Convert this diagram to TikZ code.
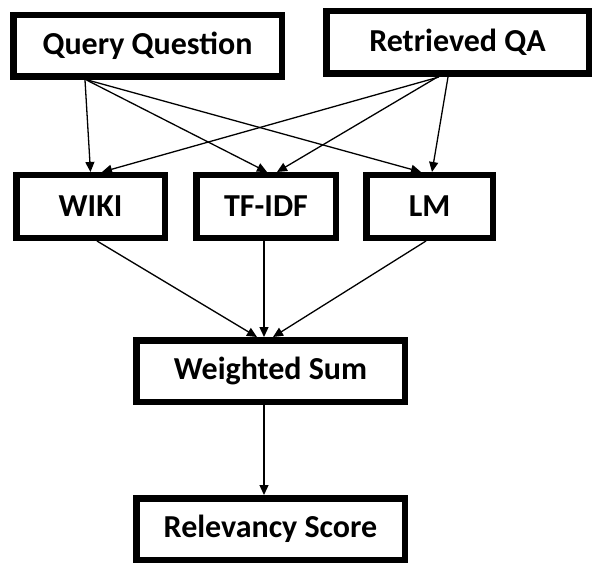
\documentclass[tikz,border=0pt]{standalone}
\usepackage{fontspec}
\setmainfont{Carlito}
\usetikzlibrary{arrows.meta,calc,positioning}

\tikzset{
    box/.style={draw, line width=6.5pt, inner sep=0pt, font=\bfseries\fontsize{32}{34}\selectfont},
    link/.style={line width=1.3pt, -{Triangle[length=10pt,width=9pt]}}
}

\begin{document}
\begin{tikzpicture}[x=1pt,y=-1pt]
                        \useasboundingbox (0,0) rectangle (594,564);

                        % Drawing box query
                        \node [box, minimum width=268.5pt, minimum height=61.5pt] (query) at (147.5,46) {Query Question};%

                        % Drawing box retrieved
                        \node [box, minimum width=262.5pt, minimum height=62.5pt] (retr) at (457.5,42.5) {Retrieved QA};%

                        % Drawing box wiki
                        \node [box, minimum width=148.5pt, minimum height=62.5pt] (wiki) at (90.5,206.5) {WIKI};%

                        % Drawing box tf-idf
                        \node [box, minimum width=139.5pt, minimum height=62.5pt] (tfidf) at (266,206.5) {TF-IDF};%

                        % Drawing box lm
                        \node [box, minimum width=126.5pt, minimum height=62.5pt] (lm) at (429.5,206.5) {LM};%

                        % Drawing box weighted sum
                        \node [box, minimum width=268.5pt, minimum height=61.5pt] (wsum) at (270.5,371) {Weighted Sum};%

                        % Drawing box relevancy score
                        \node [box, minimum width=268.5pt, minimum height=61.5pt] (score) at (270.5,529) {Relevancy Score};%

                        % Arrows from query question
                        \draw [link] ([xshift=-62.5pt]query.south) -- (wiki.north);%
                        \draw [link] ([xshift=-61pt]query.south) -- ([xshift=1pt]tfidf.north);%
                        \draw [link] ([xshift=-60pt]query.south) -- ([xshift=-8.5pt]lm.north);%

                        % Arrows from retrieved qa
                        \draw [link] ([xshift=-18.5pt]retr.south) -- ([xshift=11.5pt]wiki.north);%
                        \draw [link] ([xshift=-20pt]retr.south) -- ([xshift=11pt]tfidf.north);%
                        \draw [link] ([xshift=-9.5pt]retr.south) -- ([xshift=2.5pt]lm.north);%

                        % Arrows into weighted sum
                        \draw [link] ([xshift=6.5pt]wiki.south) -- ([xshift=-13.5pt]wsum.north);%
                        \draw [link] ([xshift=-2pt]tfidf.south) -- ([xshift=-6.5pt]wsum.north);%
                        \draw [link] ([xshift=-3.5pt]lm.south) -- ([xshift=2.5pt]wsum.north);%

                        % Arrow into relevancy score
                        \draw [link] ([xshift=-6.5pt]wsum.south) -- ([xshift=-6.5pt]score.north);%
\end{tikzpicture}
\end{document}
